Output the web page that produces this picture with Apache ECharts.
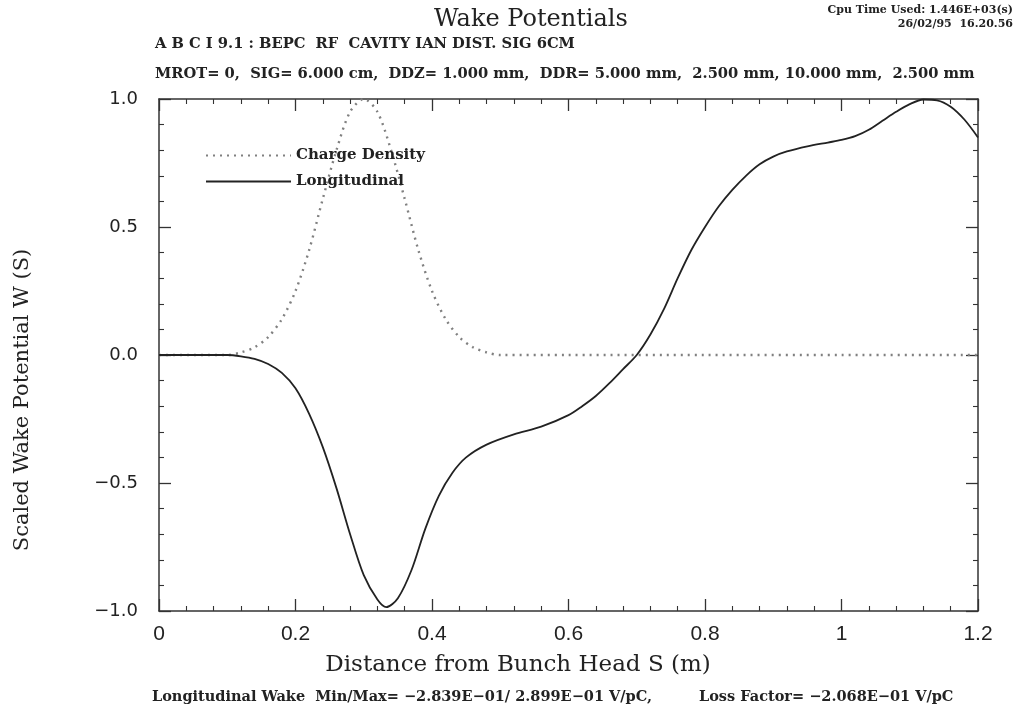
<!DOCTYPE html>
<html>
<head>
<meta charset="utf-8">
<script src="https://cdn.jsdelivr.net/npm/echarts@6/dist/echarts.min.js"></script>
<style>
html,body{margin:0;padding:0;background:#fff;}
#chart{width:1036px;height:715px;}
</style>
</head>
<body>
<div id="chart"></div>
<script>
// ---- data ----
var chargeX = [0, 0.05, 0.10, 0.12, 0.14, 0.16, 0.18, 0.20, 0.22, 0.24, 0.26, 0.28, 0.30, 0.32, 0.34, 0.36, 0.38, 0.40, 0.42, 0.44, 0.46, 0.48, 0.50, 0.60, 0.80, 1.00, 1.20];
var chargeY = [0, 0, 0.0, 0.01, 0.03, 0.07, 0.14, 0.25, 0.41, 0.61, 0.80, 0.95, 1.0, 0.95, 0.80, 0.61, 0.41, 0.25, 0.14, 0.07, 0.03, 0.01, 0.0, 0, 0, 0, 0];

var wakeX = [0, 0.05, 0.10, 0.12, 0.14, 0.16, 0.18, 0.20, 0.22, 0.24, 0.26, 0.28, 0.30, 0.32, 0.333, 0.35, 0.37, 0.39, 0.41, 0.43, 0.45, 0.48, 0.52, 0.56, 0.60, 0.62, 0.64, 0.66, 0.68, 0.70, 0.72, 0.74, 0.76, 0.78, 0.80, 0.82, 0.84, 0.86, 0.88, 0.90, 0.92, 0.95, 0.98, 1.00, 1.02, 1.04, 1.06, 1.08, 1.10, 1.12, 1.14, 1.16, 1.18, 1.20];
var wakeY = [0, 0, 0, -0.005, -0.015, -0.035, -0.07, -0.13, -0.23, -0.36, -0.52, -0.70, -0.86, -0.955, -0.985, -0.95, -0.84, -0.68, -0.55, -0.46, -0.40, -0.35, -0.31, -0.28, -0.235, -0.20, -0.16, -0.11, -0.055, 0.0, 0.08, 0.18, 0.30, 0.41, 0.50, 0.58, 0.645, 0.70, 0.745, 0.775, 0.795, 0.815, 0.83, 0.84, 0.855, 0.88, 0.915, 0.95, 0.98, 0.998, 0.995, 0.97, 0.92, 0.85];

var seriesNames = ['Charge Density', 'Longitudinal'];
var xTickLabels = {0: '0', 0.2: '0.2', 0.4: '0.4', 0.6: '0.6', 0.8: '0.8', 1: '1', 1.2: '1.2'};

var titleText = 'Wake Potentials';
var headerLine1 = 'A B C I 9.1 : BEPC  RF  CAVITY IAN DIST. SIG 6CM';
var headerLine2 = 'MROT= 0,  SIG= 6.000 cm,  DDZ= 1.000 mm,  DDR= 5.000 mm,  2.500 mm, 10.000 mm,  2.500 mm';
var cpuLine1 = 'Cpu Time Used: 1.446E+03(s)';
var cpuLine2 = '26/02/95  16.20.56';
var footerLeft = 'Longitudinal Wake  Min/Max= \u22122.839E\u221201/ 2.899E\u221201 V/pC,';
var footerRight = 'Loss Factor= \u22122.068E\u221201 V/pC';
var xName = 'Distance from Bunch Head S (m)';
var yName = 'Scaled Wake Potential W (S)';

function zip(a, b) { var r = []; for (var i = 0; i < a.length; i++) r.push([a[i], b[i]]); return r; }

var chart = echarts.init(document.getElementById('chart'), null, {renderer: 'canvas'});
var axisCol = '#333';
var boldFont = {fontFamily: 'DejaVu Serif', fontWeight: 'bold', fill: '#222'};

function xAxisBase(pos, showLabel) {
  return {
    type: 'value', position: pos, min: 0, max: 1.2, interval: 0.2,
    axisLine: {show: true, onZero: false, lineStyle: {color: axisCol, width: 1.5}},
    axisTick: {show: true, inside: true, length: 12, lineStyle: {color: axisCol, width: 1.3}},
    minorTick: {show: true, splitNumber: 5, length: 5, lineStyle: {color: axisCol, width: 1.1}},
    splitLine: {show: false}, minorSplitLine: {show: false},
    axisLabel: {show: showLabel, margin: 13, fontFamily: 'Liberation Sans', fontSize: 21, color: '#222',
      formatter: function (v) { var k = Math.round(v * 10) / 10; return xTickLabels[k] !== undefined ? xTickLabels[k] : ''; }}
  };
}
function yAxisBase(pos, showLabel) {
  return {
    type: 'value', position: pos, min: -1, max: 1, interval: 0.5,
    axisLine: {show: true, onZero: false, lineStyle: {color: axisCol, width: 1.5}},
    axisTick: {show: true, inside: true, length: 12, lineStyle: {color: axisCol, width: 1.3}},
    minorTick: {show: true, splitNumber: 5, length: 5, lineStyle: {color: axisCol, width: 1.1}},
    splitLine: {show: false}, minorSplitLine: {show: false},
    axisLabel: {show: showLabel, margin: 21, fontFamily: 'DejaVu Sans', fontSize: 18, color: '#222',
      formatter: function (v) { return v.toFixed(1).replace('-', '\u2212'); }}
  };
}

var option = {
  backgroundColor: '#fff',
  animation: false,
  grid: {left: 159, top: 99, width: 819, height: 512, containLabel: false},
  xAxis: [xAxisBase('bottom', true), xAxisBase('top', false)],
  yAxis: [yAxisBase('left', true), yAxisBase('right', false)],
  legend: {
    show: true, orient: 'vertical', left: 200, top: 143, itemWidth: 85, itemHeight: 12, itemGap: 11,
    data: seriesNames,
    itemStyle: {opacity: 0},
    textStyle: {fontFamily: 'DejaVu Serif', fontWeight: 'bold', fontSize: 15, color: '#222'}
  },
  series: [
    {name: seriesNames[0], type: 'line', data: zip(chargeX, chargeY), symbol: 'none', smooth: 0.3,
      lineStyle: {color: '#808080', width: 2.4, type: [2, 5]}, itemStyle: {color: '#808080'}, z: 2},
    {name: seriesNames[1], type: 'line', data: zip(wakeX, wakeY), symbol: 'none', smooth: 0.3,
      lineStyle: {color: '#222', width: 1.8, type: 'solid'}, itemStyle: {color: '#222'}, z: 3}
  ],
  graphic: [
    {type: 'text', left: 434, top: 8, style: {text: titleText, fontFamily: 'DejaVu Serif', fontSize: 24, fill: '#222'}},
    {type: 'text', right: 23, top: 5, style: Object.assign({text: cpuLine1, fontSize: 11}, boldFont)},
    {type: 'text', right: 23, top: 19, style: Object.assign({text: cpuLine2, fontSize: 11}, boldFont)},
    {type: 'text', left: 155, top: 37, style: Object.assign({text: headerLine1, fontSize: 14.7}, boldFont)},
    {type: 'text', left: 155, top: 67, style: Object.assign({text: headerLine2, fontSize: 14.7}, boldFont)},
    {type: 'text', left: 152, top: 690, style: Object.assign({text: footerLeft, fontSize: 14.5}, boldFont)},
    {type: 'text', left: 699, top: 690, style: Object.assign({text: footerRight, fontSize: 14.5}, boldFont)},
    {type: 'text', x: 518, y: 665, style: {text: xName, fontFamily: 'DejaVu Serif', fontSize: 23, fill: '#222', align: 'center', verticalAlign: 'middle'}},
    {type: 'text', x: 23, y: 400, rotation: Math.PI / 2, style: {text: yName, fontFamily: 'DejaVu Serif', fontSize: 21, fill: '#222', align: 'center', verticalAlign: 'middle'}}
  ]
};
chart.setOption(option);
</script>
</body>
</html>
